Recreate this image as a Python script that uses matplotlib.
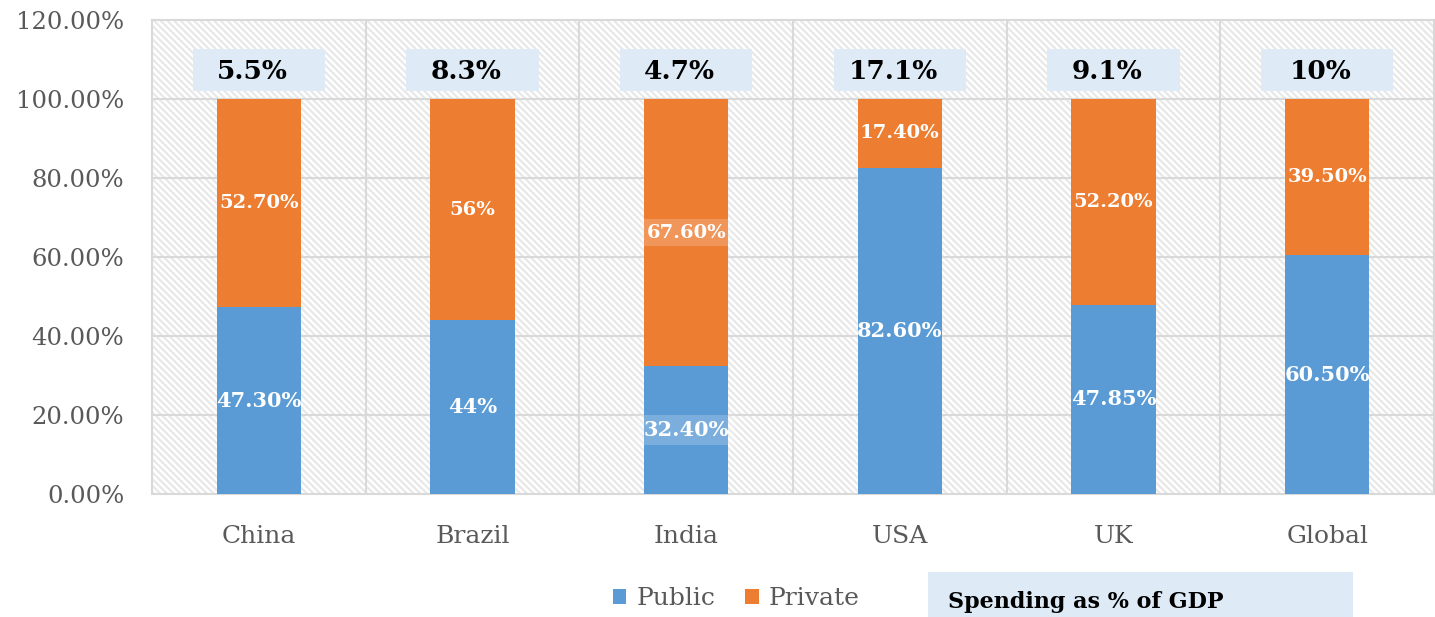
import numpy as np
import matplotlib
matplotlib.use('Agg')
import matplotlib.pyplot as plt
from matplotlib.patches import Rectangle

countries = ['China', 'Brazil', 'India', 'USA', 'UK', 'Global']
public = [47.30, 44.0, 32.40, 82.60, 47.85, 60.50]
private = [52.70, 56.0, 67.60, 17.40, 52.20, 39.50]
public_lbl = ['47.30%', '44%', '32.40%', '82.60%', '47.85%', '60.50%']
private_lbl = ['52.70%', '56%', '67.60%', '17.40%', '52.20%', '39.50%']
gdp_lbl = ['5.5%', '8.3%', '4.7%', '17.1%', '9.1%', '10%']

blue = '#5b9bd5'
orange = '#ed7d31'
gray_txt = '#595959'
box_col = '#deebf7'

plt.rcParams['font.family'] = ['DejaVu Serif']
plt.rcParams['hatch.linewidth'] = 1.6

fig = plt.figure(figsize=(14.35, 6.17), dpi=100)
ax = fig.add_axes([152/1435, (617-494)/617, (1434-152)/1435, (494-20)/617])

x = np.arange(len(countries))
w = 0.395

ax.set_xlim(-0.5, len(countries) - 0.5)
ax.set_ylim(0, 120)

# hatched background
ax.add_patch(Rectangle((0, 0), 1, 1, transform=ax.transAxes, fc='white',
                       ec='#e8e8e8', lw=0, hatch='\\\\\\\\\\', zorder=0))

# grid
for yv in np.arange(20, 120, 20):
    ax.axhline(yv, color='#d9d9d9', lw=1.5, zorder=1)
for xv in np.arange(0.5, len(countries) - 0.5, 1):
    ax.axvline(xv, color='#d9d9d9', lw=1.5, zorder=1)

ax.bar(x, public, w, color=blue, label='Public', zorder=3)
ax.bar(x, private, w, bottom=public, color=orange, label='Private', zorder=3)

for i in range(len(countries)):
    bb = None
    if countries[i] == 'India':
        bb = dict(boxstyle='square,pad=0.25', fc='white', ec='none', alpha=0.2)
    ax.text(x[i], public[i] / 2, public_lbl[i], ha='center', va='center',
            color='white', fontsize=15, fontweight='bold', zorder=5, bbox=bb)
    ax.text(x[i], public[i] + private[i] / 2, private_lbl[i], ha='center', va='center',
            color='white', fontsize=14, fontweight='bold', zorder=5, bbox=bb)
    ax.add_patch(Rectangle((x[i] - 0.31, 102), 0.62, 10.6, fc=box_col, ec='none', zorder=4))
    ax.text(x[i] - 0.03, 107.0, gdp_lbl[i], ha='center', va='center', color='black',
            fontsize=19, fontweight='bold', zorder=5)

ax.set_yticks(np.arange(0, 121, 20))
ax.set_yticklabels(['%.2f%%' % v for v in np.arange(0, 121, 20)])
ax.set_xticks(x)
ax.set_xticklabels(countries)
ax.tick_params(axis='both', length=0, labelsize=18, colors=gray_txt)
ax.tick_params(axis='y', labelsize=17.5, pad=20)
ax.tick_params(axis='x', pad=22)
for s in ax.spines.values():
    s.set_color('#d9d9d9')
    s.set_linewidth(1.5)

leg = fig.legend(loc='lower left', bbox_to_anchor=(590/1435, -0.025), ncol=2, frameon=False,
                 fontsize=18, handlelength=0.55, handleheight=0.55, handletextpad=0.4,
                 columnspacing=1.2)
for t in leg.get_texts():
    t.set_color(gray_txt)

fig.patches.append(Rectangle((928/1435, 0), (1353-928)/1435, 45/617, transform=fig.transFigure,
                             fc=box_col, ec='none', zorder=0))
fig.text(948/1435, 9/617, 'Spending as % of GDP', ha='left', va='baseline',
         fontsize=16, fontweight='bold', color='black')

fig.savefig('out.png', dpi=100)
